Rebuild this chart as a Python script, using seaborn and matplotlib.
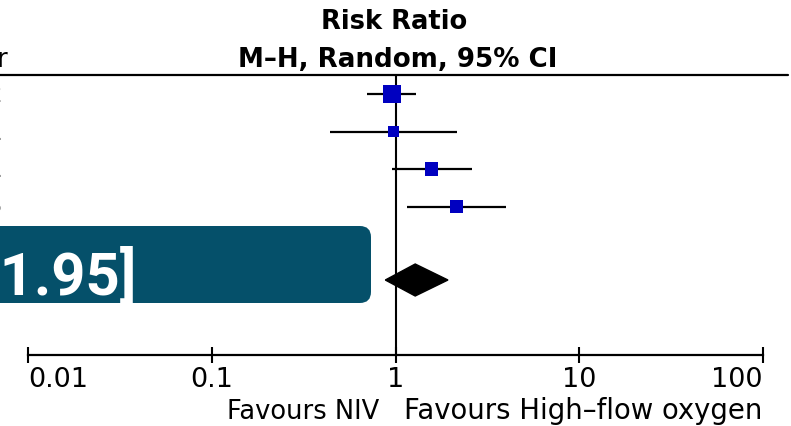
import matplotlib
matplotlib.use("Agg")
import matplotlib.pyplot as plt
import seaborn as sns
import pandas as pd
from matplotlib.lines import Line2D
from matplotlib.patches import FancyBboxPatch
from matplotlib.ticker import FixedLocator, FixedFormatter, NullLocator

# ---- data ----
study_years = ["2012", "2011", "2011", "2015"]
rr_est = [0.96, 0.975, 1.57, 2.15]
rr_low = [0.70, 0.44, 0.96, 1.16]
rr_high = [1.30, 2.15, 2.62, 4.01]
weights = [40, 15, 24, 21]
pooled_est = 1.28
pooled_low = 0.88
pooled_high = 1.93
tick_values = [0.01, 0.1, 1, 10, 100]
tick_labels = ["0.01", "0.1", "1", "10", "100"]
header_lines = ["Risk Ratio", "M\u2013H, Random, 95% CI"]
left_header = "Year"
favours_left = "Favours NIV"
favours_right = "Favours High\u2013flow oxygen"
pooled_text = "RR 1.28 [0.88\u20131.95]"

sns.set_theme(style="white")
plt.rcParams["font.family"] = ["DejaVu Sans"]

W, H = 791, 427
fig = plt.figure(figsize=(W / 100, H / 100), dpi=100)
ax = fig.add_axes([28 / W, 0, 735 / W, 1])
ax.set_xscale("log")
ax.set_xlim(0.01, 100)
ax.set_ylim(H, 0)
ax.patch.set_alpha(0)

row_y = [95 + i * 37.5 for i in range(len(rr_est))]
df = pd.DataFrame({"rr": rr_est, "lo": rr_low, "hi": rr_high, "w": weights, "y": row_y})

# CI lines
ax.hlines(df["y"], df["lo"], df["hi"], color="black", lw=1.6, zorder=2)
# weighted squares
sns.scatterplot(data=df, x="rr", y="y", size="w", sizes=(62.7, 168), size_norm=(15, 40),
                marker="s", color="#0000C0", edgecolor="none", legend=False, ax=ax, zorder=3)

# line of no effect
ax.plot([1, 1], [76, 356], color="black", lw=1.5, zorder=1)

# pooled diamond
yc = 281
ax.fill([pooled_low, pooled_est, pooled_high, pooled_est], [yc, yc - 16, yc, yc + 16],
        color="black", zorder=3)

# axis styling
for s in ["top", "left", "right"]:
    ax.spines[s].set_visible(False)
ax.spines["bottom"].set_position(("data", 356))
ax.spines["bottom"].set_linewidth(1.6)
ax.spines["bottom"].set_color("black")
ax.xaxis.set_major_locator(FixedLocator(tick_values))
ax.xaxis.set_major_formatter(FixedFormatter(tick_labels))
ax.xaxis.set_minor_locator(NullLocator())
ax.tick_params(axis="x", direction="inout", length=12, width=1.5, color="black",
               labelsize=19.5, pad=2, bottom=True, labelcolor="black")
ax.set_yticks([])
ax.set_xlabel("")
ax.set_ylabel("")
labels = ax.get_xticklabels()
labels[0].set_horizontalalignment("left")
labels[-1].set_horizontalalignment("right")

def fx(px):
    return px / W

def fy(py):
    return 1 - py / H

# top rule
fig.add_artist(Line2D([0, fx(788)], [fy(76), fy(76)], color="black", lw=1.6))

# headers
fig.text(fx(394), fy(29), header_lines[0], ha="center", va="baseline", fontsize=18.5,
         fontweight="bold", color="black")
fig.text(fx(398), fy(67), header_lines[1], ha="center", va="baseline", fontsize=18.8,
         fontweight="bold", color="black")
fig.text(fx(8), fy(67), left_header, ha="right", va="baseline", fontsize=18.5, color="black")
for y, yr in zip(row_y, study_years):
    fig.text(fx(3), fy(y), yr, ha="right", va="center", fontsize=18, color="black")

# favours labels
fig.text(fx(379), fy(419), favours_left, ha="right", va="baseline", fontsize=18.5, color="black")
fig.text(fx(404), fy(419), favours_right, ha="left", va="baseline", fontsize=19.8, color="black")

# teal box with pooled estimate
box = FancyBboxPatch((fx(-40), fy(304)), fx(411), (304 - 227) / H,
                     boxstyle="round,pad=0,rounding_size=0.014",
                     transform=fig.transFigure, facecolor="#05506A", edgecolor="none",
                     mutation_aspect=W / H)
fig.add_artist(box)
fig.text(fx(136), fy(295), pooled_text, ha="right", va="baseline", fontsize=43,
         fontweight="bold", color="white", family=["Roboto", "DejaVu Sans"])

fig.savefig("out.png", dpi=100)
